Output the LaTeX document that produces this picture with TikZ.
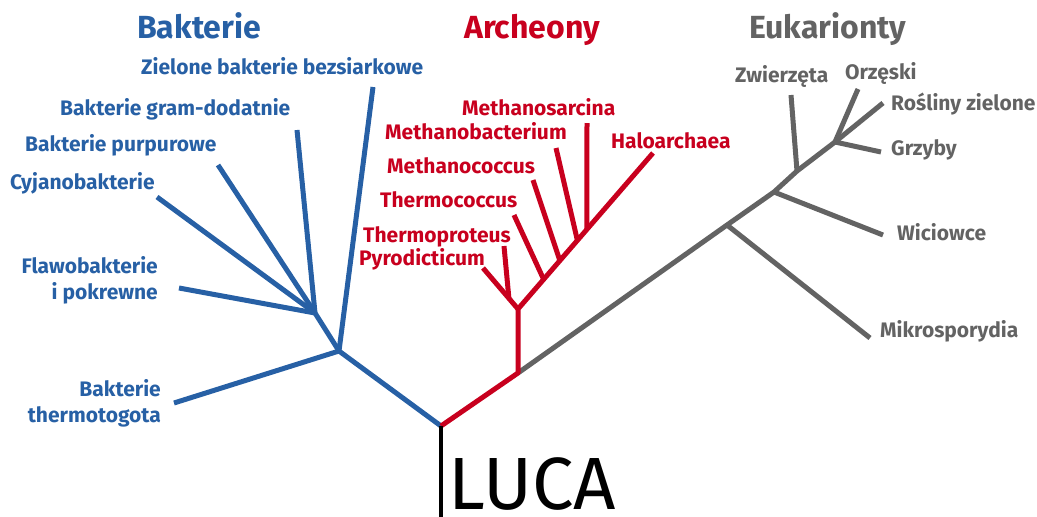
\documentclass[tikz,border=0pt]{standalone}
\usepackage{fontspec}
\setmainfont{Fira Sans}
\usetikzlibrary{calc}
\definecolor{BactBlue}{HTML}{2760A5}
\definecolor{ArchRed}{HTML}{C8001E}
\definecolor{EukGray}{HTML}{636363}

\begin{document}
\begin{tikzpicture}[x=1pt, y=-1pt,
    branch/.style={line width=5pt, line join=round},
    bact/.style={branch, draw=BactBlue},
    arch/.style={branch, draw=ArchRed},
    euk/.style={branch, draw=EukGray},
    lab/.style={inner sep=0pt, anchor=base west, font=\fontsize{21}{25.5}\selectfont\bfseries},
    blab/.style={lab, text=BactBlue},
    alab/.style={lab, text=ArchRed},
    elab/.style={lab, text=EukGray},
    heading/.style={inner sep=0pt, anchor=base west, font=\fontsize{32}{38}\selectfont\bfseries}
]
\useasboundingbox (0,0) rectangle (1037,517);

% === Headings ===
\node[heading, text=BactBlue] (hbact) at (137,38) {Bakterie};
\node[heading, text=ArchRed] (harch) at (464,38) {Archeony};
\node[heading, text=EukGray] (heuk) at (749,38) {Eukarionty};

% === Junctions ===
\coordinate (root) at (441,426);
\coordinate (lucaend) at (441,517);
\coordinate (b1) at (339,351);
\coordinate (b2) at (315,313);
\coordinate (a1) at (518,373);
\coordinate (a2) at (518,309);
\coordinate (e1) at (727,225);
\coordinate (e2) at (774,192);
\coordinate (e3) at (797,171);
\coordinate (e4) at (835,142);

% === Leaves ===
\coordinate (thermotoga) at (174,403);
\coordinate (zielone) at (373,87);
\coordinate (gram) at (297,130);
\coordinate (purp) at (218,165);
\coordinate (cyjano) at (157,197);
\coordinate (flawo) at (179,288);

\coordinate (pyro) at (483,268);
\coordinate (tproteus) at (504,246);
\coordinate (tcoccus) at (514,215);
\coordinate (mcoccus) at (533,180);
\coordinate (mbact) at (556,148);
\coordinate (msarc) at (587,123);
\coordinate (halo) at (653,153);

\coordinate (mikro) at (870,338);
\coordinate (wici) at (883,235);
\coordinate (zwierz) at (791,95);
\coordinate (orz) at (858,89);
\coordinate (rosl) at (883,103);
\coordinate (grzyby) at (881,152);

% === Eukaryota ===
\draw[euk] (a1) -- (e1) -- (e2) -- (e3) -- (e4);
\draw[euk] (e1) -- (mikro);
\draw[euk] (e2) -- (wici);
\draw[euk] (e3) -- (zwierz);
\draw[euk] (e4) -- (orz);
\draw[euk] (e4) -- (rosl);
\draw[euk] (e4) -- (grzyby);

% === Bacteria ===
\draw[bact] (root) -- (b1) -- (b2);
\draw[bact] (b1) -- (thermotoga);
\draw[bact] (b1) -- (zielone);
\draw[bact] (b2) -- (gram);
\draw[bact] (b2) -- (purp);
\draw[bact] (b2) -- (cyjano);
\draw[bact] (b2) -- (flawo);

% === Archaea ===
\coordinate (a3) at ($(a2)!0.26!(pyro)$);
\draw[arch] (root) -- (a1) -- (a2) -- (halo);
\draw[arch] (a2) -- (pyro);
\draw[arch] (a3) -- (tproteus);
\draw[arch] ($(a2)!0.19!(halo)$) -- (tcoccus);
\draw[arch] ($(a2)!0.31!(halo)$) -- (mcoccus);
\draw[arch] ($(a2)!0.44!(halo)$) -- (mbact);
\draw[arch] ($(a2)!0.51!(halo)$) -- (msarc);

% === Root ===
\draw[line width=3.5pt] (root) -- (lucaend);
\node[inner sep=0pt, anchor=base west, font=\fontsize{74}{80}\selectfont] (luca) at (448,509) {LUCA};

% === Bacteria labels ===
\node[blab] (lzielone) at (141,74) {Zielone bakterie bezsiarkowe};
\node[blab] (lgram) at (60,115.5) {Bakterie gram-dodatnie};
\node[blab] (lpurp) at (25,151.5) {Bakterie purpurowe};
\node[blab] (lcyjano) at (10,189) {Cyjanobakterie};
\node[blab, anchor=base east, align=right] (lflawo) at (158,299) {Flawobakterie\\i pokrewne};
\node[blab, anchor=base east, align=right] (lthermotoga) at (161,422) {Bakterie\\thermotogota};

% === Archaea labels ===
\node[alab] (lmsarc) at (462,115) {Methanosarcina};
\node[alab] (lmbact) at (385,139) {Methanobacterium};
\node[alab] (lhalo) at (611,148) {Haloarchaea};
\node[alab] (lmcoccus) at (387,173) {Methanococcus};
\node[alab] (ltcoccus) at (380,207) {Thermococcus};
\node[alab] (ltproteus) at (363,242) {Thermoproteus};
\node[alab] (lpyro) at (359,265) {Pyrodicticum};

% === Eukaryota labels ===
\node[elab] (lzwierz) at (735,82) {Zwierzęta};
\node[elab] (lorz) at (845,79) {Orzęski};
\node[elab] (lrosl) at (891,110) {Rośliny zielone};
\node[elab] (lgrzyby) at (891,155) {Grzyby};
\node[elab] (lwici) at (897,240) {Wiciowce};
\node[elab] (lmikro) at (880,337) {Mikrosporydia};
\end{tikzpicture}
\end{document}
